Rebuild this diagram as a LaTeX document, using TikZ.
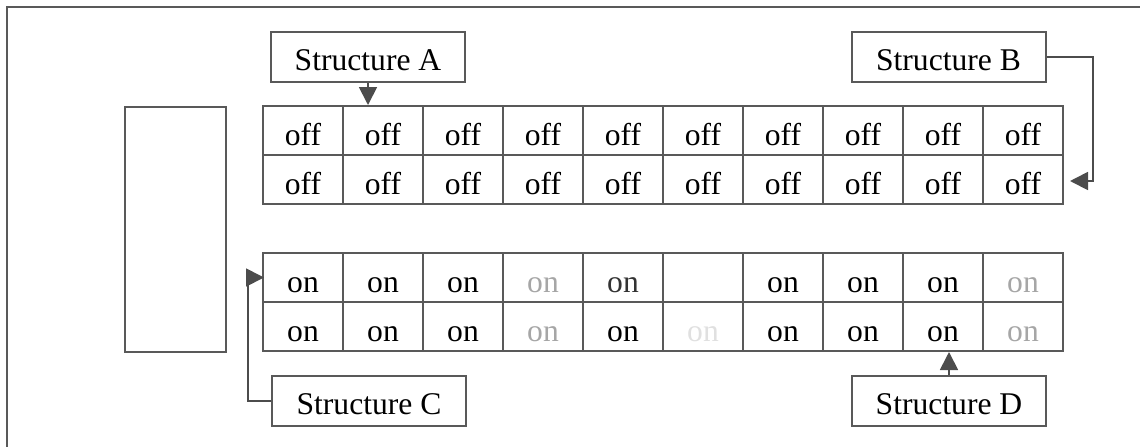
\documentclass[tikz,border=0pt]{standalone}
\usepackage{fontspec}
\setmainfont{Liberation Serif}
\usetikzlibrary{arrows.meta}

\begin{document}
\begin{tikzpicture}[x=0.5pt, y=-0.5pt,
  cell/.style={draw=black!65, line width=1pt, inner sep=0pt,
               minimum width=40pt, minimum height=24.5pt,
               text height=14.5pt, text depth=0pt,
               font=\fontsize{15.8}{18}\selectfont},
  tag/.style={draw=black!65, line width=1pt, inner sep=0pt,
              minimum width=97pt, minimum height=25pt,
              text height=13pt, text depth=0pt,
              font=\fontsize{15.8}{18}\selectfont},
  link/.style={draw=black!70, line width=0.9pt,
               -{Triangle[length=9pt, width=9pt]}},
  ]
  \useasboundingbox (0,0) rectangle (1140,446);
  \clip (0,0) rectangle (1140,446);
  \draw[black!65, line width=1.2pt] (7,7) rectangle (1170,480);

  \node[cell, minimum width=50.5pt, minimum height=122.5pt,
        text height=0pt] (buffer) at (175.5,229.5) {};

  % upper table
  \foreach \i in {1,...,10} {
    \node[cell] (offa\i) at (223+80*\i,130.5) {off};
    \node[cell] (offb\i) at (223+80*\i,179.5) {off};
  }

  % lower table
  \foreach \i/\ca/\ta/\cb/\tb in {1/black/on/black/on, 2/black/on/black/on,
      3/black/on/black/on, 4/black!35/on/black!35/on, 5/black!80/on/black/on,
      6/white/{}/black!12/on, 7/black/on/black/on, 8/black/on/black/on,
      9/black/on/black/on, 10/black!35/on/black!35/on} {
    \node[cell, text=\ca] (ona\i) at (223+80*\i,277.5) {\ta};
    \node[cell, text=\cb] (onb\i) at (223+80*\i,326.5) {\tb};
  }

  \node[tag] (strA) at (368,57) {Structure A};
  \node[tag] (strB) at (948.5,57) {Structure B};
  \node[tag] (strC) at (369,401) {Structure C};
  \node[tag] (strD) at (949,401) {Structure D};

  \coordinate (bturn) at (1093,181);
  \coordinate (cturn) at (248,277.5);

  \draw[link] (strA.south) -- (strA.south |- offa1.north);
  \draw[link] (strB.east) -| (bturn) -- ([xshift=3pt]bturn -| offb10.east);
  \draw[link] (strC.west) -| (cturn) -- ([xshift=1pt]ona1.west);
  \draw[link] (strD.north) -- (strD.north |- onb9.south);
\end{tikzpicture}
\end{document}
